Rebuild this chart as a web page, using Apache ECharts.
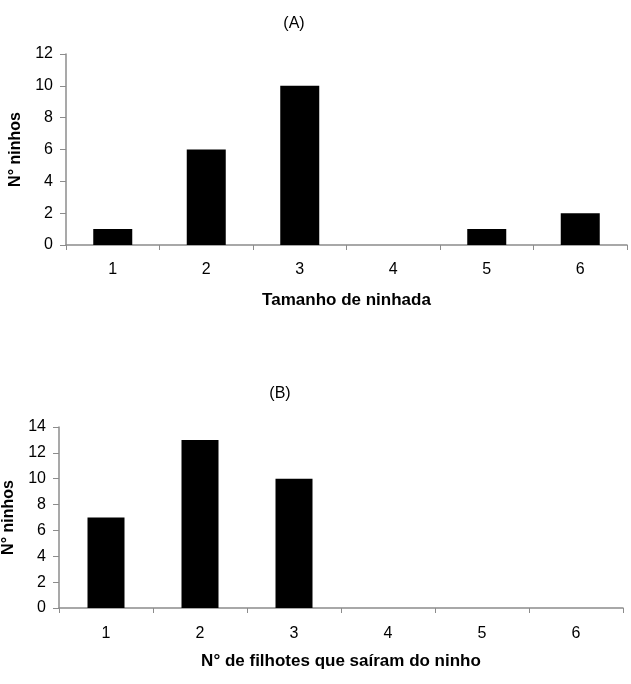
<!DOCTYPE html>
<html>
<head>
<meta charset="utf-8">
<script src="https://cdn.jsdelivr.net/npm/echarts@6/dist/echarts.min.js"></script>
<style>
  html, body { margin: 0; padding: 0; background: #fff; }
  #chart { width: 631px; height: 684px; }
</style>
</head>
<body>
<div id="chart"></div>
<script>
// categories and counts
const categories = ['1', '2', '3', '4', '5', '6'];
const ninhadaCounts = [1, 6, 10, 0, 1, 2];
const filhotesCounts = [7, 13, 10, 0, 0, 0];

const font = 'Liberation Sans, Arial, sans-serif';
const axisGrey = '#8c8c8c';

function xAxisFor(gridIndex, name, labelMargin, nameGap) {
  return {
    type: 'category',
    gridIndex,
    data: categories,
    name,
    nameLocation: 'middle',
    nameGap,
    nameTextStyle: { fontFamily: font, fontSize: 17, fontWeight: 'bold', color: '#000' },
    axisLine: { lineStyle: { color: axisGrey, width: 1.5 } },
    axisTick: { show: true, length: 5, lineStyle: { color: axisGrey } },
    axisLabel: { fontFamily: font, fontSize: 16, color: '#000', margin: labelMargin }
  };
}

function yAxisFor(gridIndex, max, gap) {
  return {
    type: 'value',
    gridIndex,
    min: 0,
    max,
    interval: 2,
    name: 'N° ninhos',
    nameLocation: 'middle',
    nameGap: gap,
    nameRotate: 90,
    nameTextStyle: { fontFamily: font, fontSize: 16, fontWeight: 'bold', color: '#000' },
    axisLine: { show: true, lineStyle: { color: axisGrey, width: 1.5 } },
    axisTick: { show: true, length: 6, lineStyle: { color: axisGrey } },
    axisLabel: { fontFamily: font, fontSize: 16, color: '#000', margin: 13 },
    splitLine: { show: false }
  };
}

const chart = echarts.init(document.getElementById('chart'));
chart.setOption({
  animation: false,
  backgroundColor: '#fff',
  title: [
    { text: '(A)', left: 289, top: 11, textAlign: 'center',
      textStyle: { fontFamily: font, fontSize: 16, fontWeight: 'normal', color: '#000' } },
    { text: '(B)', left: 275, top: 381, textAlign: 'center',
      textStyle: { fontFamily: font, fontSize: 16, fontWeight: 'normal', color: '#000' } }
  ],
  grid: [
    { left: 66, top: 54, width: 561, height: 191, outerBoundsMode: 'none' },
    { left: 59, top: 427, width: 564, height: 181, outerBoundsMode: 'none' }
  ],
  xAxis: [
    xAxisFor(0, 'Tamanho de ninhada', 17, 47),
    xAxisFor(1, 'N° de filhotes que saíram do ninho', 18, 45)
  ],
  yAxis: [
    yAxisFor(0, 12, 42),
    yAxisFor(1, 14, 42)
  ],
  series: [
    {
      type: 'bar', xAxisIndex: 0, yAxisIndex: 0,
      data: ninhadaCounts, barWidth: 39,
      itemStyle: { color: '#000' }
    },
    {
      type: 'bar', xAxisIndex: 1, yAxisIndex: 1,
      data: filhotesCounts, barWidth: 37,
      itemStyle: { color: '#000' }
    }
  ]
});
</script>
</body>
</html>
